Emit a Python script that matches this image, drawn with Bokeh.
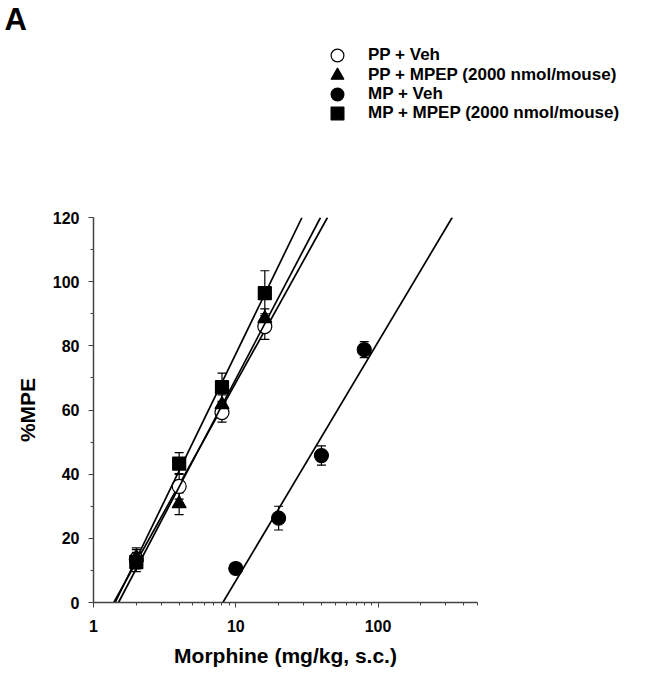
import numpy as np
from bokeh.plotting import figure
from bokeh.layouts import column
from bokeh.models import (ColumnDataSource, Whisker, TeeHead, Legend, LegendItem,
                          FixedTicker, NumeralTickFormatter, Label, Range1d)
from bokeh.embed import file_html
from bokeh.resources import INLINE

# ---------------- data ----------------
dose_pp = [2, 4, 8, 16]
dose_mp = [10, 20, 40, 80]

pp_veh = [13.5, 36.2, 59.2, 86.0]
pp_veh_err = [3.0, 4.0, 3.0, 4.0]

pp_mpep = [14.0, 30.8, 61.7, 88.5]
pp_mpep_err = [3.0, 3.4, 3.0, 3.0]

mp_veh = [10.6, 26.3, 45.8, 78.8]
mp_veh_err = [1.5, 3.7, 3.0, 2.5]

mp_mpep = [12.6, 43.3, 67.1, 96.4]
mp_mpep_err = [3.0, 3.4, 4.4, 7.0]

labels = ["PP + Veh", "PP + MPEP (2000 nmol/mouse)", "MP + Veh", "MP + MPEP (2000 nmol/mouse)"]
x_major = [1, 10, 100]
x_minor = [2, 3, 4, 5, 6, 7, 8, 9, 20, 30, 40, 50, 60, 70, 80, 90, 200, 300, 400, 500]
y_min, y_max = 0, 120

FONT = "Liberation Sans"

series = [
    (dose_pp, pp_veh, pp_veh_err, "circle", "white"),
    (dose_pp, pp_mpep, pp_mpep_err, "triangle", "black"),
    (dose_mp, mp_veh, mp_veh_err, "circle", "black"),
    (dose_pp, mp_mpep, mp_mpep_err, "square", "black"),
]

# ---------------- header figure: panel letter + legend ----------------
top = figure(width=647, height=190, output_backend="svg", toolbar_location=None,
             x_axis_location=None, y_axis_location=None,
             x_range=Range1d(-20, -10), y_range=Range1d(-20, -10),
             min_border_left=0, min_border_right=0, min_border_top=0, min_border_bottom=0)
top.frame_align = False
top.outline_line_color = None
top.xgrid.visible = False
top.ygrid.visible = False

row_bottoms = [119, 99, 80, 61]
for (xs, ys, es, marker, fill), lab, vy in zip(series, labels, row_bottoms):
    r = top.scatter(xs, ys, marker=marker, size=13, fill_color=fill,
                    line_color="black", line_width=1.2)
    lg = Legend(items=[LegendItem(label=lab, renderers=[r])], location=(321, vy),
                glyph_width=32, glyph_height=32, padding=0, margin=0, spacing=0,
                label_standoff=15, label_height=20,
                label_text_font=FONT, label_text_font_style="bold",
                label_text_font_size="17px", label_text_color="black",
                border_line_color=None, background_fill_alpha=0)
    top.add_layout(lg, "center")

top.add_layout(Label(x=4, y=189, x_units="screen", y_units="screen", text="A",
                     text_font=FONT, text_font_style="bold", text_font_size="31px",
                     text_baseline="top", text_align="left", text_color="black"))

# ---------------- main figure ----------------
p = figure(width=647, height=485, x_axis_type="log", output_backend="svg",
           toolbar_location=None, x_range=Range1d(1, 500), y_range=Range1d(y_min, y_max),
           min_border_left=93, min_border_right=170, min_border_top=27, min_border_bottom=73)
p.frame_align = False
p.outline_line_color = None
p.xgrid.visible = False
p.ygrid.visible = False

for (xs, ys, es, marker, fill) in series:
    lx = np.log10(np.array(xs, dtype=float))
    m, b = np.polyfit(lx, np.array(ys, dtype=float), 1)
    yl = np.array([y_min, y_max], dtype=float)
    xl = 10 ** ((yl - b) / m)
    p.line(xl, yl, line_color="black", line_width=1.7)

    src = ColumnDataSource(dict(x=xs, y=ys,
                                upper=[y + e for y, e in zip(ys, es)],
                                lower=[y - e for y, e in zip(ys, es)]))
    w = Whisker(base="x", upper="upper", lower="lower", source=src, level="underlay",
                line_color="black", line_width=1.2,
                upper_head=TeeHead(size=9, line_color="black", line_width=1.2),
                lower_head=TeeHead(size=9, line_color="black", line_width=1.2))
    p.add_layout(w)
    size = 14 if marker != "square" else 13
    p.scatter("x", "y", source=src, marker=marker, size=size,
              fill_color=fill, line_color="black", line_width=1.2)

p.xaxis.ticker = FixedTicker(ticks=x_major, minor_ticks=x_minor)
p.xaxis.formatter = NumeralTickFormatter(format="0")
p.yaxis.ticker = FixedTicker(ticks=list(range(0, 121, 20)), minor_ticks=list(range(0, 121, 10)))

for ax in (p.xaxis[0], p.yaxis[0]):
    ax.axis_line_color = "#444444"
    ax.axis_line_width = 1.5
    ax.major_tick_line_color = "#444444"
    ax.minor_tick_line_color = "#444444"
    ax.major_tick_in = 0
    ax.minor_tick_in = 0
    ax.major_tick_out = 5
    ax.minor_tick_out = 3
    ax.major_label_text_font = FONT
    ax.major_label_text_font_style = "bold"
    ax.major_label_text_font_size = "16px"
    ax.major_label_text_color = "black"
    ax.axis_label_text_font = FONT
    ax.axis_label_text_font_style = "bold"
    ax.axis_label_text_font_size = "21px"
    ax.axis_label_text_color = "black"

p.xaxis.axis_label = "Morphine (mg/kg, s.c.)"
p.yaxis.axis_label = "%MPE"
p.xaxis.major_label_standoff = 12
p.xaxis.axis_label_standoff = 9
p.yaxis.major_label_standoff = 9
p.yaxis.axis_label_standoff = 11

layout = column(top, p, spacing=0)
open("out.html", "w").write(file_html(layout, INLINE))
